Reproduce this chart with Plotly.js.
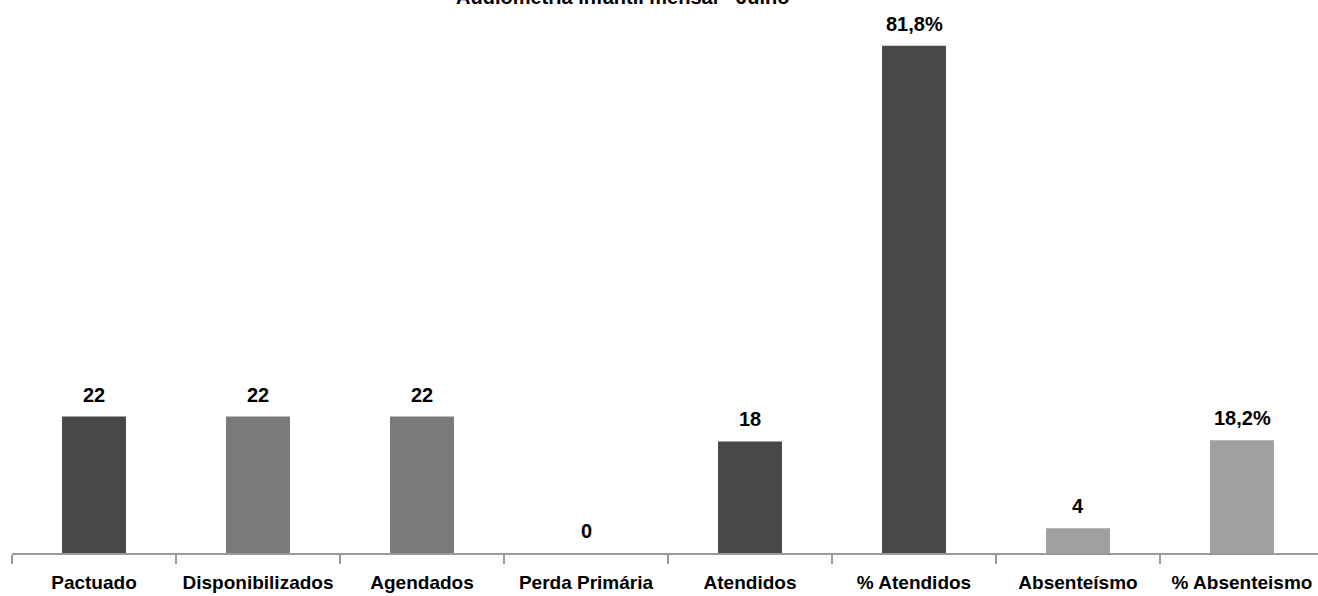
<!DOCTYPE html>
<html>
<head>
<meta charset="utf-8">
<script src="https://cdn.plot.ly/plotly-3.0.1.min.js"></script>
<style>html,body{margin:0;padding:0;background:#fff;}#chart{width:1318px;height:596px;}</style>
</head>
<body>
<div id="chart"></div>
<script>
const categories = ["Pactuado", "Disponibilizados", "Agendados", "Perda Primária", "Atendidos", "% Atendidos", "Absenteísmo", "% Absenteismo"];
const values = [22, 22, 22, 0, 18, 81.8, 4, 18.2];
const valueLabels = ["22", "22", "22", "0", "18", "81,8%", "4", "18,2%"];
const barColors = ["#484848", "#7a7a7a", "#7a7a7a", "#7a7a7a", "#484848", "#484848", "#a0a0a0", "#a0a0a0"];
const chartTitle = "Audiometria infantil mensal - Julho";

const FONT = "'Liberation Sans', Arial, sans-serif";
const plotTop = 20, plotBottom = 43, H = 596;
const plotH = H - plotTop - plotBottom;
const pxPerUnit = 6.2;

const trace = {
  type: "bar",
  x: categories,
  y: values,
  marker: { color: barColors, line: { width: 0 } },
  width: 0.39,
  hoverinfo: "skip"
};

const annotations = categories.map((c, i) => ({
  x: c, y: values[i], xref: "x", yref: "y",
  text: valueLabels[i], showarrow: false,
  yanchor: "bottom", yshift: 9,
  font: { family: FONT, size: 20, color: "#000", weight: "bold" }
}));
annotations.push({
  xref: "paper", yref: "paper", x: (622 - 12) / 1306, y: 1 + 10 / plotH,
  xanchor: "center", yanchor: "bottom", showarrow: false,
  text: chartTitle,
  font: { family: FONT, size: 20, color: "#000", weight: "bold" }
});

const layout = {
  width: 1318, height: 596,
  margin: { l: 12, r: 0, t: plotTop, b: plotBottom, pad: 0 },
  paper_bgcolor: "#fff", plot_bgcolor: "#fff",
  showlegend: false,
  xaxis: {
    type: "category",
    range: [-0.5, 7.5 - 6 / 164],
    showline: true, linecolor: "#9a9a9a", linewidth: 1.5,
    ticks: "outside", tickson: "boundaries", ticklen: 9, tickcolor: "#9a9a9a", tickwidth: 1.5,
    tickangle: 0, ticklabelstandoff: 12,
    tickfont: { family: FONT, size: 19, color: "#000", weight: "bold" },
    showgrid: false, zeroline: false, fixedrange: true
  },
  yaxis: {
    range: [0, plotH / pxPerUnit],
    visible: false, showgrid: false, zeroline: false, fixedrange: true
  },
  annotations: annotations
};

Plotly.newPlot("chart", [trace], layout, { displayModeBar: false, staticPlot: true });
</script>
</body>
</html>
